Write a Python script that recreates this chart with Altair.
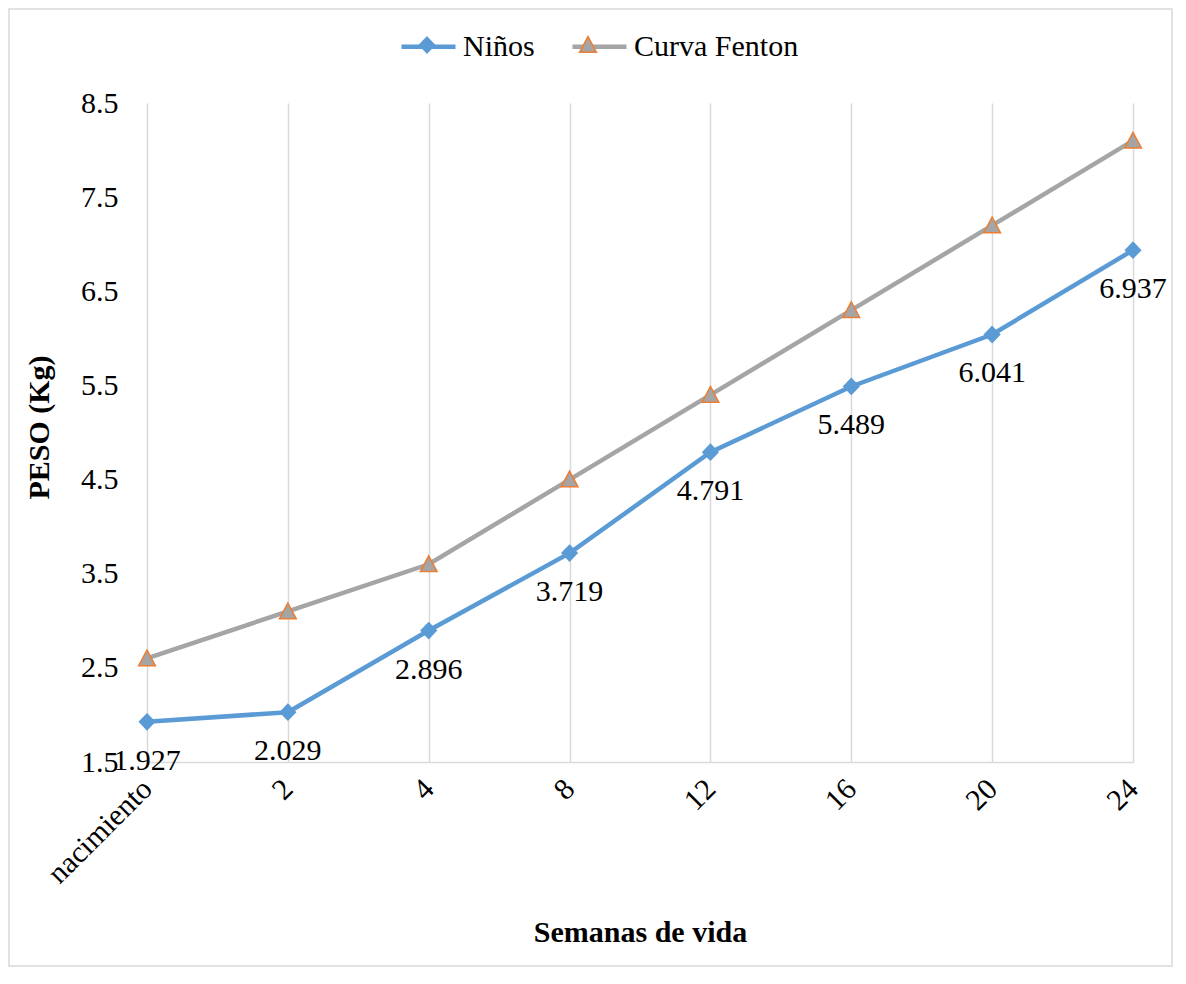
import altair as alt
import pandas as pd

categorias = ["nacimiento", "2", "4", "8", "12", "16", "20", "24"]
ninos = [1.927, 2.029, 2.896, 3.719, 4.791, 5.489, 6.041, 6.937]
fenton = [2.6, 3.1, 3.6, 4.5, 5.4, 6.3, 7.2, 8.1]
series = ["Niños", "Curva Fenton"]
y_ticks = [1.5, 2.5, 3.5, 4.5, 5.5, 6.5, 7.5, 8.5]

BLUE = "#5B9BD5"
GRAY = "#A5A5A5"
ORANGE = "#ED7D31"
GRID = "#D9D9D9"
FONT = "Liberation Serif"

rows = []
for s, vals in zip(series, [ninos, fenton]):
    for c, v in zip(categorias, vals):
        rows.append({"semana": c, "serie": s, "serie2": s, "peso": v})
df = pd.DataFrame(rows)

W, H = 986, 659
SYM = 2916
diamond = "M0,-0.29L0.28,0L0,0.29L-0.28,0Z"
triangle = "M0,-0.31L0.31,0.27L-0.31,0.27Z"

x_enc = alt.X(
    "semana:N",
    sort=categorias,
    scale=alt.Scale(type="point", padding=0),
    axis=alt.Axis(
        title="Semanas de vida",
        titleFont=FONT, titleFontSize=30, titleFontWeight="bold", titleColor="black",
        titleX=W / 2, titleY=170, titleBaseline="middle", titleAlign="center",
        labelFont=FONT, labelFontSize=30, labelColor="black",
        labelAngle=-45, labelAlign="right", labelBaseline="middle", labelPadding=22,
        ticks=False, grid=True, gridColor=GRID, gridWidth=1.5,
        domainColor=GRID, domainWidth=1.5,
    ),
)
y_enc = alt.Y(
    "peso:Q",
    scale=alt.Scale(domain=[1.5, 8.5], nice=False, zero=False),
    axis=alt.Axis(
        title="PESO (Kg)",
        titleFont=FONT, titleFontSize=30, titleFontWeight="bold", titleColor="black",
        titleX=-108, titleY=324, titleAlign="center", titleBaseline="middle",
        values=y_ticks, format=".1f",
        labelFont=FONT, labelFontSize=30, labelColor="black", labelPadding=29,
        ticks=False, grid=False, domain=False,
    ),
)

leg_common = dict(
    orient="none", legendX=252, legendY=-86, direction="horizontal", title=None,
    symbolSize=SYM, labelFont=FONT, labelFontSize=30, labelColor="black",
    columnPadding=28, labelOffset=5, labelLimit=400,
)

base = alt.Chart(df)

lines = base.mark_line(strokeWidth=4.5).encode(
    x=x_enc,
    y=y_enc,
    color=alt.Color(
        "serie:N",
        sort=series,
        scale=alt.Scale(range=[BLUE, GRAY]),
        legend=alt.Legend(symbolType="stroke", symbolStrokeWidth=4.5, **leg_common),
    ),
)

pt_leg = alt.Legend(labelOpacity=0, symbolStrokeWidth=1.5, symbolOpacity=1, **leg_common)
points = base.mark_point(filled=True, size=SYM, strokeWidth=1.5, opacity=1).encode(
    x=x_enc,
    y=y_enc,
    shape=alt.Shape("serie2:N", scale=alt.Scale(domain=series, range=[diamond, triangle]), legend=pt_leg),
    fill=alt.Fill("serie2:N", scale=alt.Scale(domain=series, range=[BLUE, GRAY]), legend=pt_leg),
    stroke=alt.Stroke("serie2:N", scale=alt.Scale(domain=series, range=[BLUE, ORANGE]), legend=pt_leg),
)

labels = base.transform_filter(alt.datum.serie == "Niños").mark_text(
    font=FONT, fontSize=30, color="black", baseline="alphabetic", align="center", dy=48
).encode(
    x=x_enc,
    y=y_enc,
    text=alt.Text("peso:Q", format=".3f"),
)

border = alt.Chart(pd.DataFrame({"a": [0]})).mark_rect(
    fill="transparent", stroke=GRID, strokeWidth=1.5
).encode(
    x=alt.value(-138), x2=alt.value(W + 39), y=alt.value(-94), y2=alt.value(H + 204)
)

chart = alt.layer(border, lines, points, labels).properties(
    width=W,
    height=H,
    autosize=alt.AutoSizeParams(type="none"),
    padding={"left": 139, "top": 95, "right": 40, "bottom": 205},
    background="white",
).configure_view(stroke="transparent")

chart.save("out.html", embed_options={"renderer": "svg", "actions": False})
